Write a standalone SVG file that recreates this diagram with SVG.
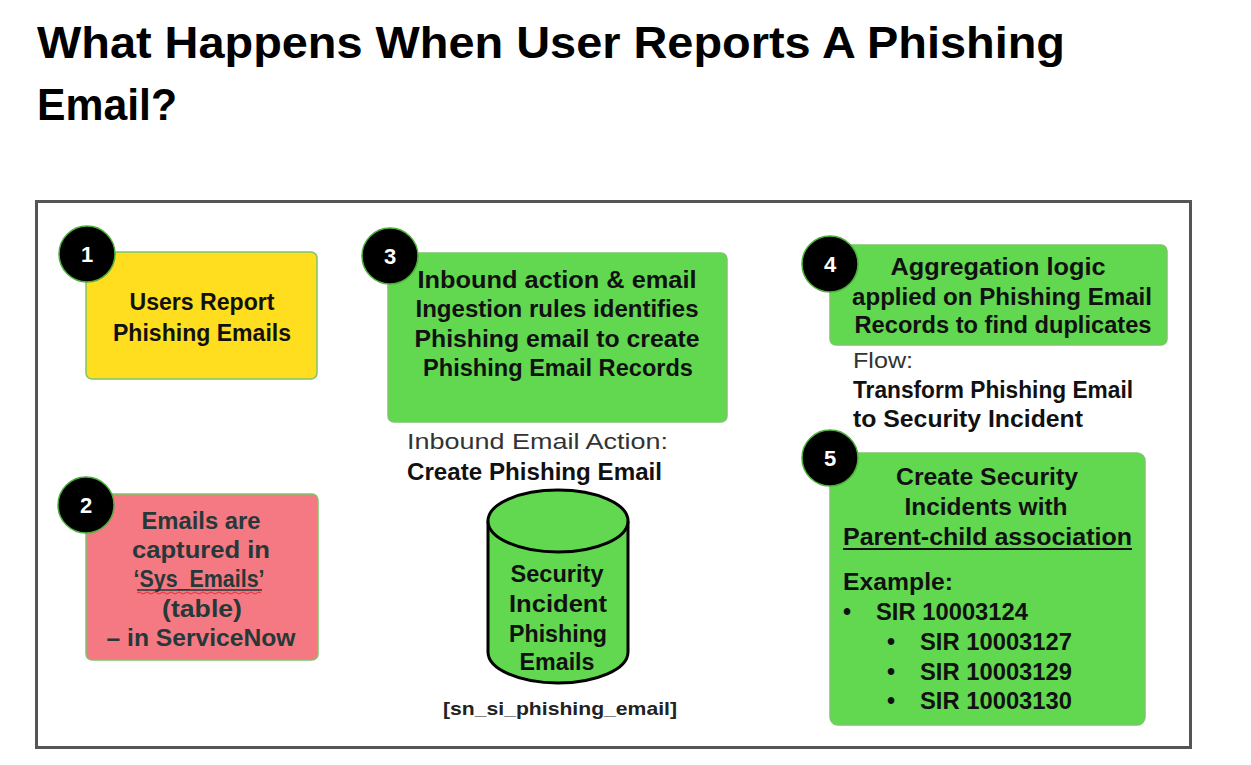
<svg xmlns="http://www.w3.org/2000/svg" width="1251" height="765" viewBox="0 0 1251 765">
<style>
  text { font-family: "Liberation Sans", Arial, sans-serif; }
  .title { font-size: 45px; font-weight: bold; fill: #000; }
  .b { font-size: 23px; font-weight: bold; fill: #111; text-anchor: middle; }
  .bl { font-size: 23px; font-weight: bold; fill: #111; }
  .r { font-size: 22px; fill: #333; }
  .num { font-size: 22px; font-weight: bold; fill: #fff; text-anchor: middle; }
  .box { stroke: #7cc56a; stroke-width: 1.5; }
  .badge { fill: #000; stroke: #4caf3a; stroke-width: 1.5; }
  .yellow { fill: #FFDD1F; }
  .pink { fill: #F47983; }
  .green { fill: #61D84F; }
</style>
<rect x="0" y="0" width="1251" height="765" fill="#fff"/>
<text class="title" x="37" y="58" textLength="1028" lengthAdjust="spacingAndGlyphs">What Happens When User Reports A Phishing</text>
<text class="title" x="37" y="120" textLength="140" lengthAdjust="spacingAndGlyphs">Email?</text>

<rect x="36.5" y="201.5" width="1154" height="546" fill="none" stroke="#555" stroke-width="3"/>

<g id="connectors"></g>

<g id="node1">
  <rect class="box yellow" x="86" y="252" width="231" height="127" rx="6"/>
  <circle class="badge" cx="87" cy="254" r="28"/>
  <text class="num" x="87" y="262">1</text>
  <text class="b" x="202" y="310" textLength="145" lengthAdjust="spacingAndGlyphs">Users Report</text>
  <text class="b" x="202" y="341" textLength="178" lengthAdjust="spacingAndGlyphs">Phishing Emails</text>
</g>

<g id="node2">
  <rect class="box pink" x="86" y="494" width="232" height="166" rx="6"/>
  <circle class="badge" cx="86" cy="505" r="28"/>
  <text class="num" x="86" y="513">2</text>
  <text class="b" x="201" y="529" textLength="119" lengthAdjust="spacingAndGlyphs" style="fill:#263838">Emails are</text>
  <text class="b" x="201" y="558" textLength="138" lengthAdjust="spacingAndGlyphs" style="fill:#263838">captured in</text>
  <text class="b" x="199" y="587" textLength="131" lengthAdjust="spacingAndGlyphs" style="fill:#263838">‘Sys_Emails’</text>
  <text class="b" x="202" y="617" textLength="80" lengthAdjust="spacingAndGlyphs" style="fill:#263838">(table)</text>
  <text class="b" x="201" y="646" textLength="189" lengthAdjust="spacingAndGlyphs" style="fill:#263838">– in ServiceNow</text>
  <line x1="137" y1="590" x2="262" y2="590" stroke="#263838" stroke-width="1.5"/>
  <path d="M137 593 q2 -2 4 0 t4 0 t4 0 t4 0 t4 0 t4 0 t4 0 t4 0 t4 0 t4 0 t4 0 t4 0 t4 0 t4 0 t4 0 t4 0 t4 0 t4 0 t4 0 t4 0 t4 0 t4 0 t4 0 t4 0 t4 0 t4 0 t4 0 t4 0 t4 0 t4 0 t4 0" fill="none" stroke="#e0303a" stroke-width="1"/>
</g>

<g id="node3">
  <rect class="box green" x="388" y="253" width="339" height="169" rx="6"/>
  <circle class="badge" cx="390" cy="256" r="28"/>
  <text class="num" x="390" y="264">3</text>
  <text class="b" x="557" y="288" textLength="279" lengthAdjust="spacingAndGlyphs">Inbound action &amp; email</text>
  <text class="b" x="557" y="317" textLength="283" lengthAdjust="spacingAndGlyphs">Ingestion rules identifies</text>
  <text class="b" x="557" y="347" textLength="285" lengthAdjust="spacingAndGlyphs">Phishing email to create</text>
  <text class="b" x="558" y="376" textLength="270" lengthAdjust="spacingAndGlyphs">Phishing Email Records</text>
</g>

<g id="label3">
  <text class="r" x="407" y="449" textLength="261" lengthAdjust="spacingAndGlyphs">Inbound Email Action:</text>
  <text class="bl" x="407" y="480" textLength="255" lengthAdjust="spacingAndGlyphs">Create Phishing Email</text>
</g>

<g id="db">
  <path d="M488 521 L488 652 A70 31 0 0 0 628 652 L628 521" fill="#61D84F" stroke="#000" stroke-width="3"/>
  <ellipse cx="558" cy="521" rx="70" ry="31" fill="#61D84F" stroke="#000" stroke-width="3"/>
  <text class="b" x="557" y="582" textLength="93" lengthAdjust="spacingAndGlyphs">Security</text>
  <text class="b" x="558" y="612" textLength="98" lengthAdjust="spacingAndGlyphs">Incident</text>
  <text class="b" x="558" y="642" textLength="98" lengthAdjust="spacingAndGlyphs">Phishing</text>
  <text class="b" x="557" y="670" textLength="75" lengthAdjust="spacingAndGlyphs">Emails</text>
  <text class="b" x="560" y="715" textLength="234" lengthAdjust="spacingAndGlyphs" style="font-size:19px;fill:#222">[sn_si_phishing_email]</text>
</g>

<g id="node4">
  <rect class="box green" x="830" y="245" width="337" height="100" rx="6"/>
  <circle class="badge" cx="830" cy="264" r="28"/>
  <text class="num" x="830" y="272">4</text>
  <text class="b" x="998" y="275" textLength="215" lengthAdjust="spacingAndGlyphs">Aggregation logic</text>
  <text class="b" x="1002" y="305" textLength="300" lengthAdjust="spacingAndGlyphs">applied on Phishing Email</text>
  <text class="b" x="1003" y="333" textLength="297" lengthAdjust="spacingAndGlyphs">Records to find duplicates</text>
</g>

<g id="label4">
  <text class="r" x="853" y="368" textLength="60" lengthAdjust="spacingAndGlyphs">Flow:</text>
  <text class="bl" x="853" y="398" textLength="280" lengthAdjust="spacingAndGlyphs">Transform Phishing Email</text>
  <text class="bl" x="853" y="427" textLength="230" lengthAdjust="spacingAndGlyphs">to Security Incident</text>
</g>

<g id="node5">
  <rect class="box green" x="830" y="453" width="315" height="272" rx="8"/>
  <circle class="badge" cx="830" cy="458" r="28"/>
  <text class="num" x="830" y="466">5</text>
  <text class="b" x="987" y="485" textLength="182" lengthAdjust="spacingAndGlyphs">Create Security</text>
  <text class="b" x="986" y="515" textLength="163" lengthAdjust="spacingAndGlyphs">Incidents with</text>
  <text class="bl" x="843" y="545" textLength="289" lengthAdjust="spacingAndGlyphs">Parent-child association</text>
  <line x1="843" y1="549" x2="1132" y2="549" stroke="#111" stroke-width="2"/>
  <text class="bl" x="843" y="590" textLength="110" lengthAdjust="spacingAndGlyphs">Example:</text>
  <text class="bl" x="843" y="620">•</text>
  <text class="bl" x="876" y="620" textLength="152" lengthAdjust="spacingAndGlyphs">SIR 10003124</text>
  <text class="bl" x="887" y="650">•</text>
  <text class="bl" x="920" y="650" textLength="152" lengthAdjust="spacingAndGlyphs">SIR 10003127</text>
  <text class="bl" x="887" y="680">•</text>
  <text class="bl" x="920" y="680" textLength="152" lengthAdjust="spacingAndGlyphs">SIR 10003129</text>
  <text class="bl" x="887" y="709">•</text>
  <text class="bl" x="920" y="709" textLength="152" lengthAdjust="spacingAndGlyphs">SIR 10003130</text>
</g>
</svg>
